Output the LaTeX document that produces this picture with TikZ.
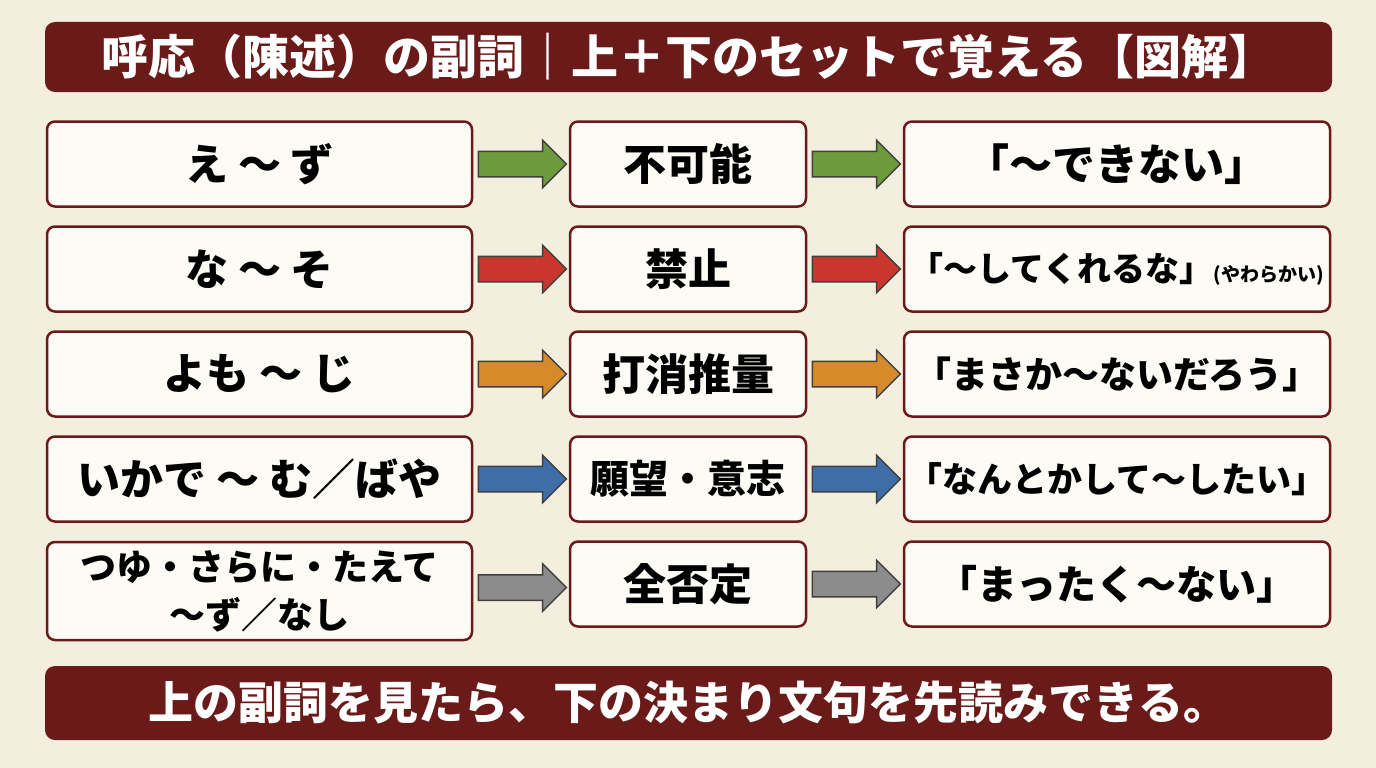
\documentclass[tikz,border=0pt]{standalone}
\usepackage{fontspec}
\newfontfamily\cjk{Noto Sans CJK JP}
\usetikzlibrary{shapes.arrows,calc}
\definecolor{bg}{HTML}{F4EEDF}
\definecolor{dred}{HTML}{6A1A18}
\definecolor{boxf}{HTML}{FDFBF6}
\definecolor{cg}{HTML}{6C9A3C}
\definecolor{cr}{HTML}{C9372C}
\definecolor{co}{HTML}{D68B2B}
\definecolor{cb}{HTML}{3E6DA8}
\definecolor{cgr}{HTML}{8C8C8C}
\begin{document}
\begin{tikzpicture}[x=1pt,y=-1pt,
 box/.style={draw=dred,line width=2.5pt,fill=boxf,rounded corners=8pt,inner sep=0pt,align=center,font=\cjk\bfseries\fontsize{43}{48}\selectfont},
 bar/.style={fill=dred,rounded corners=10pt,inner sep=0pt,text=white,font=\cjk\bfseries\fontsize{47}{50}\selectfont},
 arr/.style={single arrow,draw=black!75,line width=1.5pt,fill=#1,minimum height=88pt,inner xsep=0pt,inner ysep=12pt,single arrow head extend=11pt,single arrow head indent=0pt,xshift=-5pt}]
\useasboundingbox (0,0) rectangle (1376,768);
\fill[bg] (0,0) rectangle (1376,768);
\node[bar,minimum width=1287pt,minimum height=70pt] (title) at (688.5,57) {呼応（陳述）の副詞｜上＋下のセットで覚える【図解】};
\node[bar,minimum width=1287pt,minimum height=74pt,font=\cjk\bfseries\fontsize{45}{50}\selectfont] (foot) at (688.5,703) {上の副詞を見たら、下の決まり文句を先読みできる。};
\foreach \i/\y/\yy/\h/\l/\m/\r/\c in {1/164/164/85/{え 〜 ず}/不可能/{「〜できない」}/cg,
 2/269/269/85/{な 〜 そ}/禁止/{\fontsize{34}{40}\selectfont「〜してくれるな」\fontsize{19}{24}\selectfont(やわらかい)}/cr,
 3/374/374/85/{よも 〜 じ}/打消推量/{\fontsize{37}{40}\selectfont「まさか〜ないだろう」}/co,
 4/479/479/85/{いかで 〜 む／ばや}/{\fontsize{39}{40}\selectfont 願望・意志}/{\fontsize{35}{40}\selectfont「なんとかして〜したい」}/cb,
 5/591/584/98/{\fontsize{36}{42}\selectfont つゆ・さらに・たえて\\\fontsize{36}{42}\selectfont〜ず／なし}/全否定/{\fontsize{40}{44}\selectfont「まったく〜ない」}/cgr}{
 \node[box,minimum width=425pt,minimum height=\h pt] (l\i) at (259.5,\y) {\l};
 \node[box,minimum width=236pt,minimum height=85pt] (m\i) at (688,\yy) {\m};
 \node[box,minimum width=426pt,minimum height=85pt] (r\i) at (1117,\yy) {\r};
 \node[arr=\c] (a\i) at ($(l\i.east)!0.5!(m\i.west)$) {};
 \node[arr=\c] (b\i) at ($(m\i.east)!0.5!(r\i.west)$) {};
}
\end{tikzpicture}
\end{document}
